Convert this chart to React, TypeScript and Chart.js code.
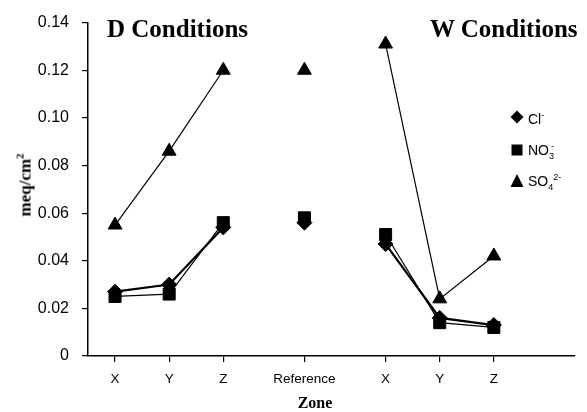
import React, { useEffect, useRef } from 'react';
import { Chart, registerables } from 'chart.js';

Chart.register(...registerables);

// ---- data ----
const zones = ['X', 'Y', 'Z', 'Reference', 'X', 'Y', 'Z'];
const zonePositions = [1, 2, 3, 4.5, 6, 7, 8];
const clValues = [0.027, 0.030, 0.054, 0.056, 0.047, 0.016, 0.013];
const no3Values = [0.025, 0.026, 0.056, 0.058, 0.051, 0.014, 0.012];
const so4Values = [0.055, 0.086, 0.120, 0.120, 0.131, 0.024, 0.042];
const yTicks = [0, 0.02, 0.04, 0.06, 0.08, 0.1, 0.12, 0.14];
// segments that are not drawn: Z -> Reference, Reference -> X
const breakAfter = [2, 3];

const W = 587;
const H = 412;

function toPoints(vals: number[]) {
  return vals.map((v, i) => ({ x: zonePositions[i], y: v }));
}

export default function App() {
  const ref = useRef<HTMLCanvasElement | null>(null);

  useEffect(() => {
    if (!ref.current) return;
    const segment = {
      borderColor: (ctx: any) => (breakAfter.includes(ctx.p0DataIndex) ? 'rgba(0,0,0,0)' : '#000'),
    };
    const chart = new Chart(ref.current, {
      type: 'line',
      data: {
        datasets: [
          {
            label: 'Cl-',
            data: toPoints(clValues),
            borderColor: '#000',
            backgroundColor: '#000',
            borderWidth: 2.2,
            pointStyle: 'rectRot',
            pointRadius: 7.5,
            pointBorderWidth: 1,
            segment,
          },
          {
            label: 'NO3-',
            data: toPoints(no3Values),
            borderColor: '#000',
            backgroundColor: '#000',
            borderWidth: 1.2,
            pointStyle: 'rect',
            pointRadius: 8.5,
            pointBorderWidth: 1,
            segment,
          },
          {
            label: 'SO42-',
            data: toPoints(so4Values),
            borderColor: '#000',
            backgroundColor: '#000',
            borderWidth: 1.2,
            pointStyle: 'triangle',
            pointRadius: 8,
            pointBorderWidth: 1,
            segment,
          },
        ],
      },
      options: {
        responsive: false,
        animation: false,
        events: [],
        layout: { padding: { top: 17, right: 12, left: 0, bottom: 0 } },
        plugins: { legend: { display: false }, tooltip: { enabled: false } },
        scales: {
          x: {
            type: 'linear',
            min: 0.5,
            max: 9.5,
            afterBuildTicks: (s: any) => {
              s.ticks = zonePositions.map((v) => ({ value: v }));
            },
            afterFit: (s: any) => {
              s.height = 56;
            },
            ticks: {
              autoSkip: false,
              maxRotation: 0,
              color: '#000',
              padding: 9,
              font: { family: 'Liberation Sans, Arial, sans-serif', size: 13.5 },
              callback: (v: any) => {
                const i = zonePositions.indexOf(Number(v));
                return i >= 0 ? zones[i] : '';
              },
            },
            grid: { drawOnChartArea: false, drawTicks: true, tickLength: 6, color: '#000', lineWidth: 1.2 },
            border: { color: '#000', width: 1.5 },
          },
          y: {
            min: 0,
            max: 0.14,
            afterBuildTicks: (s: any) => {
              s.ticks = yTicks.map((v) => ({ value: v }));
            },
            afterFit: (s: any) => {
              s.width = 88;
            },
            ticks: {
              color: '#000',
              padding: 13,
              font: { family: 'Liberation Sans, Arial, sans-serif', size: 16 },
              callback: (v: any) => (Number(v) === 0 ? '0' : Number(v).toFixed(2)),
            },
            grid: { drawOnChartArea: false, drawTicks: true, tickLength: 6, color: '#000', lineWidth: 1.2 },
            border: { color: '#000', width: 1.5 },
          },
        },
      },
    });
    return () => chart.destroy();
  }, []);

  const serifBold: React.CSSProperties = {
    position: 'absolute',
    fontFamily: '"Liberation Serif", "Times New Roman", serif',
    fontWeight: 'bold',
    color: '#000',
    whiteSpace: 'nowrap',
    lineHeight: 1,
  };
  const legendText: React.CSSProperties = {
    position: 'absolute',
    fontFamily: '"Liberation Sans", Arial, sans-serif',
    fontSize: 14,
    color: '#000',
    whiteSpace: 'nowrap',
    lineHeight: 1,
    transform: 'translateY(-50%)',
  };
  const supStyle: React.CSSProperties = { fontSize: 9, verticalAlign: 6 };
  const subStyle: React.CSSProperties = { fontSize: 9, verticalAlign: -4 };

  return (
    <div style={{ position: 'fixed', left: 0, top: 0, width: W, height: H, background: '#fff' }}>
      <canvas ref={ref} width={W} height={H} style={{ display: 'block' }} />
      <div style={{ ...serifBold, fontSize: 25, left: 107, top: 16 }}>D Conditions</div>
      <div style={{ ...serifBold, fontSize: 25, left: 430, top: 16 }}>W Conditions</div>
      <div
        style={{
          ...serifBold,
          fontSize: 17,
          left: 24,
          top: 185,
          transform: 'translate(-50%, -50%) rotate(-90deg)',
        }}
      >
        meq/cm<sup style={{ fontSize: 11, verticalAlign: 7 }}>2</sup>
      </div>
      <div style={{ ...serifBold, fontSize: 16, left: 315, top: 403, transform: 'translate(-50%, -50%)' }}>Zone</div>

      <svg style={{ position: 'absolute', left: 0, top: 0 }} width={W} height={H}>
        <polygon points="517,110.5 523.5,117 517,123.5 510.5,117" fill="#000" />
        <rect x={511.5} y={144.5} width={11} height={11} fill="#000" />
        <polygon points="517,174 523.5,187 510.5,187" fill="#000" />
      </svg>
      <div style={{ ...legendText, left: 528, top: 118 }}>
        Cl<sup style={supStyle}>-</sup>
      </div>
      <div style={{ ...legendText, left: 528, top: 151 }}>
        NO<sub style={subStyle}>3</sub>
        <sup style={{ ...supStyle, marginLeft: -3 }}>-</sup>
      </div>
      <div style={{ ...legendText, left: 528, top: 182 }}>
        SO<sub style={subStyle}>4</sub>
        <sup style={{ ...supStyle, marginLeft: 0 }}>2-</sup>
      </div>
    </div>
  );
}
